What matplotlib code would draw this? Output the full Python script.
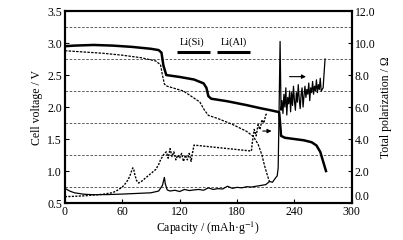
import matplotlib
matplotlib.use("Agg")
import matplotlib.pyplot as plt

plt.rcParams["font.family"] = ["Liberation Serif", "DejaVu Serif"]
plt.rcParams["mathtext.fontset"] = "stix"
plt.rcParams["font.size"] = 8.5

# cell voltage, cell 1 (thick solid)
cap_v1 = [0, 10, 30, 50, 70, 90, 98, 101, 103, 106, 120, 135, 145, 148, 150, 153,
          170, 190, 205, 215, 224, 225, 226, 230, 240, 250, 258, 263, 267, 270, 273]
volt_v1 = [2.95, 2.96, 2.97, 2.96, 2.94, 2.91, 2.89, 2.85, 2.65, 2.50, 2.47, 2.43,
           2.37, 2.30, 2.17, 2.13, 2.09, 2.03, 1.98, 1.95, 1.92, 1.75, 1.55, 1.52,
           1.50, 1.48, 1.45, 1.40, 1.30, 1.15, 1.00]

# cell voltage, cell 2 (dashed)
cap_v2 = [0, 20, 40, 60, 80, 95, 100, 102, 104, 106, 124, 141, 146, 150, 160,
          175, 190, 197, 202, 206, 209, 212, 214]
volt_v2 = [2.88, 2.86, 2.84, 2.81, 2.77, 2.72, 2.66, 2.50, 2.36, 2.33, 2.25, 2.08,
           1.95, 1.87, 1.82, 1.73, 1.62, 1.54, 1.42, 1.25, 1.07, 0.92, 0.83]

# total polarization, cell 1 (thin solid)
cap_p1 = [0, 5, 10, 20, 30, 45, 60, 75, 90, 98, 102, 104, 105, 107, 110, 115,
          120, 125, 130, 135, 140, 145, 150, 155, 160, 165, 170, 175, 180, 185,
          190, 195, 200, 205, 210, 214, 217, 220, 222, 223, 224, 225, 226, 227,
          228, 229, 230, 231, 232, 233, 234, 235, 236, 237, 238, 239, 240, 241,
          242, 243, 244, 245, 246, 247, 248, 249, 250, 251, 252, 253, 254, 255,
          256, 257, 258, 259, 260, 261, 262, 263, 264, 265, 266, 267, 268, 270, 272]
pol_p1 = [0.92, 0.75, 0.64, 0.55, 0.52, 0.53, 0.56, 0.60, 0.64, 0.75, 1.10, 1.60,
          1.20, 0.82, 0.75, 0.80, 0.72, 0.85, 0.78, 0.82, 0.85, 0.80, 0.95, 0.85,
          0.90, 0.88, 1.05, 0.92, 0.98, 0.95, 1.02, 1.00, 1.05, 1.10, 1.15, 1.35,
          1.30, 1.55, 1.70, 2.20, 6.00, 10.10, 5.80, 6.40, 5.60, 6.80, 6.00, 7.20,
          5.50, 6.60, 6.20, 7.00, 5.70, 6.90, 6.10, 7.30, 6.40, 5.80, 6.90, 6.30,
          7.40, 6.50, 5.90, 6.80, 7.20, 6.00, 6.70, 7.30, 6.60, 7.10, 6.80, 7.50,
          6.40, 7.20, 6.90, 7.60, 6.80, 7.30, 7.00, 7.70, 6.90, 7.40, 7.10, 7.80,
          7.00, 7.20, 9.00]

# total polarization, cell 2 (dotted)
cap_p2 = [0, 10, 20, 30, 40, 50, 55, 60, 63, 66, 68, 70, 71, 72, 73, 75, 77,
          80, 85, 90, 95, 98, 100, 102, 104, 106, 108, 110, 112, 114, 116, 118,
          120, 122, 124, 126, 128, 130, 132, 133, 135, 195, 196, 198, 200, 202,
          204, 206, 208, 210, 211]
pol_p2 = [0.40, 0.42, 0.45, 0.50, 0.55, 0.65, 0.80, 1.00, 1.20, 1.45, 1.70,
          2.05, 2.20, 2.10, 1.80, 1.40, 1.25, 1.35, 1.60, 1.85, 2.10, 2.40, 2.70,
          2.90, 3.10, 3.20, 2.80, 3.40, 2.90, 3.20, 2.70, 3.00, 2.80, 3.10, 2.60,
          3.00, 2.70, 3.10, 2.60, 3.00, 3.62, 3.25, 3.80, 4.60, 4.20, 4.90, 4.60,
          5.20, 5.00, 5.50, 5.60]

grid_v = [0.75, 1.25, 1.75, 2.25, 2.75, 3.25]

fig, ax = plt.subplots(figsize=(4.03, 2.40), dpi=100)
fig.subplots_adjust(left=0.161, right=0.873, bottom=0.154, top=0.954)
ax2 = ax.twinx()

for g in grid_v:
    ax.axhline(g, color="0.25", lw=0.6, ls=(0, (3, 2)), zorder=0)

ax.plot(cap_v1, volt_v1, color="k", lw=1.8)
ax.plot(cap_v2, volt_v2, color="k", lw=0.9, ls=(0, (2, 1)))
ax2.plot(cap_p1, pol_p1, color="k", lw=0.9)
ax2.plot(cap_p2, pol_p2, color="k", lw=1.0, ls=(0, (1.5, 1)))

# phase labels
ax.plot([117, 152], [2.86, 2.86], color="k", lw=2.2, solid_capstyle="butt")
ax.plot([159, 194], [2.86, 2.86], color="k", lw=2.2, solid_capstyle="butt")
ax.text(133, 2.94, "Li(Si)", ha="center", va="bottom", fontsize=7.5)
ax.text(177, 2.94, "Li(Al)", ha="center", va="bottom", fontsize=7.5)

# arrows toward the right axis
ax2.annotate("", xy=(219, 4.5), xytext=(204, 4.5),
             arrowprops=dict(arrowstyle="-|>", color="k", lw=0.8, mutation_scale=6))
ax2.annotate("", xy=(255, 7.9), xytext=(232, 7.9),
             arrowprops=dict(arrowstyle="-|>", color="k", lw=0.8, mutation_scale=6))

ax.set_xlim(0, 300)
ax.set_ylim(0.5, 3.5)
ax2.set_ylim(0, 12)
ax.set_xticks([0, 60, 120, 180, 240, 300])
ax.set_yticks([0.5, 1.0, 1.5, 2.0, 2.5, 3.0, 3.5])
ax.set_yticklabels(["0.5", "1.0", "1.5", "2.0", "2.5", "3.0", "3.5"])
ax2.set_yticks([0, 2, 4, 6, 8, 10, 12])
ax2.set_yticklabels(["0.0", "2.0", "4.0", "6.0", "8.0", "10.0", "12.0"])
ax2.get_yticklabels()[0].set_va("bottom")

ax.set_xlabel("Capacity / (mAh·g$^{-1}$)", labelpad=1)
ax.set_ylabel("Cell voltage / V", labelpad=3)
ax2.set_ylabel("Total polarization / Ω", labelpad=3)

for a in (ax, ax2):
    a.tick_params(direction="in", length=3, width=0.8, pad=2)
    for s in a.spines.values():
        s.set_linewidth(1.5)

fig.savefig("out.png", dpi=100)
